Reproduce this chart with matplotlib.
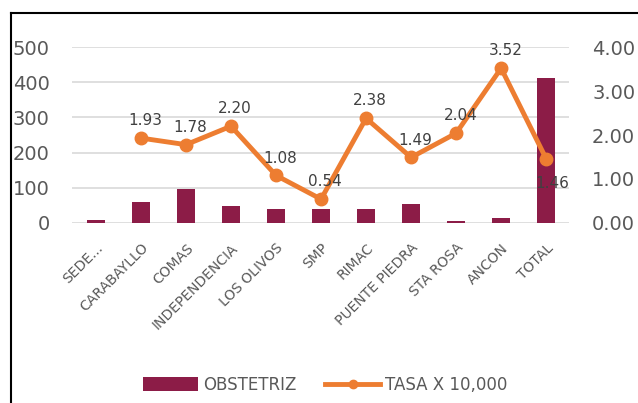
import numpy as np
import matplotlib
matplotlib.use("Agg")
import matplotlib.pyplot as plt
from matplotlib.lines import Line2D
from matplotlib.patches import Patch

# data
categorias = ["SEDE...", "CARABAYLLO", "COMAS", "INDEPENDENCIA", "LOS OLIVOS", "SMP",
              "RIMAC", "PUENTE PIEDRA", "STA ROSA", "ANCON", "TOTAL"]
obstetriz = [7, 60, 97, 49, 40, 39, 40, 54, 4, 14, 413]
tasa = [np.nan, 1.93, 1.78, 2.20, 1.08, 0.54, 2.38, 1.49, 2.04, 3.52, 1.46]

bar_color = "#8C1C47"
line_color = "#ED7D31"
gray = "#595959"

plt.rcParams['font.family'] = ['DejaVu Sans']

fig = plt.figure(figsize=(6.38, 4.03), dpi=100)
ax = fig.add_axes([0.113, 0.447, 0.779, 0.436])
ax2 = ax.twinx()

x = np.arange(len(categorias))
ax.bar(x, obstetriz, width=0.4, color=bar_color, zorder=2)
ax.set_ylim(0, 500)
ax.set_yticks([0, 100, 200, 300, 400, 500])
ax.set_xlim(-0.53, 10.51)
ax.set_xticks(x)
ax.set_xticklabels(categorias, rotation=45, ha="right", rotation_mode="anchor",
                   fontsize=10, color=gray)
ax.tick_params(axis="y", labelsize=14, labelcolor=gray, length=0, pad=16)
ax.tick_params(axis="x", length=0, pad=13)
ax.grid(axis="y", color="#D9D9D9", linewidth=1.2, zorder=0)
for s in ax.spines.values():
    s.set_visible(False)

ax2.plot(x, tasa, color=line_color, linewidth=3.5, marker="o", markersize=9, zorder=3)
ax2.set_ylim(0, 4)
ax2.set_yticks([0, 1, 2, 3, 4])
ax2.set_yticklabels([f"{v:.2f}" for v in [0, 1, 2, 3, 4]])
ax2.tick_params(axis="y", labelsize=14, labelcolor=gray, length=0, pad=16.5)
for s in ax2.spines.values():
    s.set_visible(False)

for i, v in enumerate(tasa):
    if np.isnan(v):
        continue
    # last point: label goes below, on top of the TOTAL bar
    off = (4.5, -17.5) if categorias[i] == "TOTAL" else (3, 12.5)
    ax2.annotate(f"{v:.2f}", (x[i], v), xytext=off, textcoords="offset points",
                 ha="center", va="center", fontsize=11, color="#404040", zorder=5)

handles = [Patch(facecolor=bar_color),
           Line2D([], [], color=line_color, linewidth=3.5, marker="o", markersize=6)]
fig.legend(handles, ["OBSTETRIZ", "TASA X 10,000"], loc="center",
           bbox_to_anchor=(0.51, 0.045), ncol=2, frameon=False, fontsize=12,
           labelcolor=gray, handlelength=3.3, handleheight=0.85,
           columnspacing=1.7, handletextpad=0.3)

# outer frame (top and left only visible)
fig.add_artist(Line2D([10.5 / 638, 1], [1 - 12.5 / 403, 1 - 12.5 / 403],
                      transform=fig.transFigure, color="black", linewidth=1.5))
fig.add_artist(Line2D([10.5 / 638, 10.5 / 638], [0, 1 - 12.5 / 403],
                      transform=fig.transFigure, color="black", linewidth=1.5))

fig.savefig("out.png", dpi=100)
